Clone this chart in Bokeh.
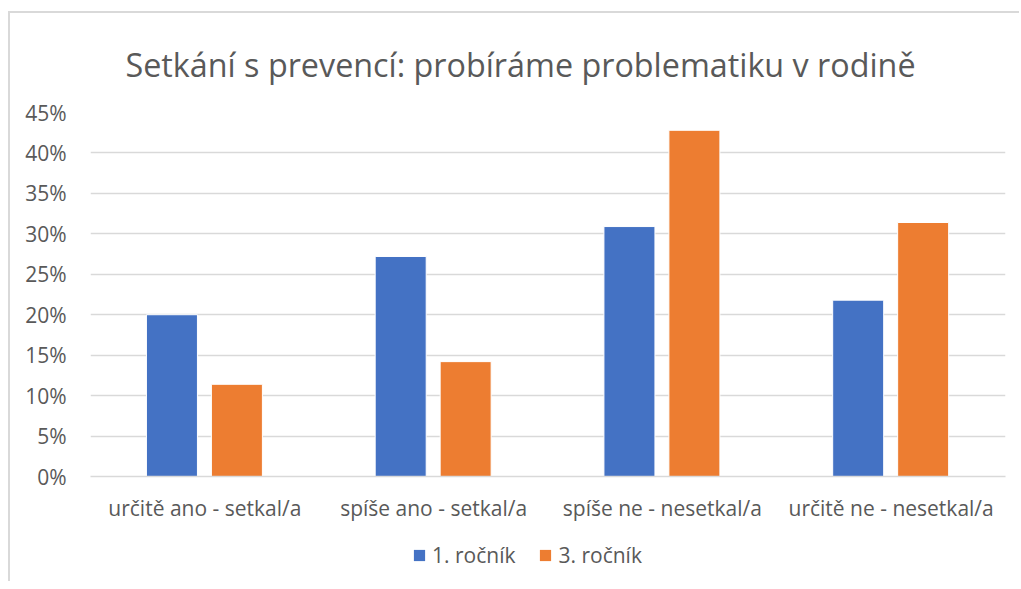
from bokeh.plotting import figure
from bokeh.layouts import column
from bokeh.models import FactorRange, FixedTicker, NumeralTickFormatter, Legend, LegendItem, ColumnDataSource
from bokeh.transform import dodge
from bokeh.embed import file_html
from bokeh.resources import INLINE

title = "Setkání s prevencí: probíráme problematiku v rodině"
categories = ["určitě ano - setkal/a", "spíše ano - setkal/a", "spíše ne - nesetkal/a", "určitě ne - nesetkal/a"]
series_names = ["1. ročník", "3. ročník"]
rocnik1 = [0.200, 0.272, 0.309, 0.218]
rocnik3 = [0.114, 0.142, 0.428, 0.314]
y_ticks = [0, 0.05, 0.10, 0.15, 0.20, 0.25, 0.30, 0.35, 0.40, 0.45]

BLUE = "#4472C4"
ORANGE = "#ED7D31"
TXT = "#595959"
GRID = "#d9d9d9"
FONT = "Open Sans"

src = ColumnDataSource(dict(cat=categories, r1=rocnik1, r3=rocnik3))

# main chart
p = figure(x_range=FactorRange(*categories), y_range=(0, 0.45),
           width=1009, height=513,
           min_border_left=80, min_border_right=14, min_border_top=99, min_border_bottom=50,
           output_backend="svg", toolbar_location=None)
p.x_range.range_padding = 0
p.outline_line_color = None
p.background_fill_color = "white"
p.border_fill_color = "white"

p.title.text = title
p.title.align = "left"
p.title.text_font = FONT
p.title.text_font_size = "32.3px"
p.title.text_font_style = "normal"
p.title.text_color = TXT
p.title.offset = 35
p.title.standoff = 53

p.vbar(x=dodge("cat", -0.144, range=p.x_range), top="r1", width=0.223, source=src,
       fill_color=BLUE, line_color="white", line_width=1)
p.vbar(x=dodge("cat", 0.14, range=p.x_range), top="r3", width=0.223, source=src,
       fill_color=ORANGE, line_color="white", line_width=1)

p.yaxis.ticker = FixedTicker(ticks=y_ticks)
p.yaxis.formatter = NumeralTickFormatter(format="0%")
p.yaxis.axis_line_color = None
p.yaxis.major_tick_line_color = None
p.yaxis.minor_tick_line_color = None
p.yaxis.major_label_text_font = FONT
p.yaxis.major_label_text_font_size = "21px"
p.yaxis.major_label_text_color = TXT
p.yaxis.major_label_standoff = 18

p.xaxis.axis_line_color = GRID
p.xaxis.axis_line_width = 1.5
p.xaxis.major_tick_line_color = None
p.xaxis.minor_tick_line_color = None
p.xaxis.major_label_text_font = FONT
p.xaxis.major_label_text_font_size = "21px"
p.xaxis.major_label_text_color = TXT
p.xaxis.major_label_standoff = 11

p.xgrid.grid_line_color = None
p.ygrid.grid_line_color = GRID
p.ygrid.grid_line_width = 1.5
p.ygrid.ticker = FixedTicker(ticks=y_ticks)

# legend strip (same series; bars lie outside its y-range so only the legend shows)
p2 = figure(x_range=FactorRange(*categories), y_range=(1, 2), width=1009, height=55,
            min_border=0, output_backend="svg", toolbar_location=None, title=None)
p2.axis.visible = False
p2.grid.grid_line_color = None
p2.outline_line_color = None
p2.border_fill_color = "white"
l1 = p2.vbar(x="cat", top="r1", width=0.2, source=src, fill_color=BLUE, line_color=None)
l3 = p2.vbar(x="cat", top="r3", width=0.2, source=src, fill_color=ORANGE, line_color=None)

legend = Legend(items=[LegendItem(label=series_names[0], renderers=[l1]),
                       LegendItem(label=series_names[1], renderers=[l3])],
                orientation="horizontal", location=(322, 12),
                label_text_font=FONT, label_text_font_size="21px", label_text_color=TXT,
                glyph_width=14, glyph_height=14, spacing=23, label_standoff=6,
                border_line_color=None, background_fill_alpha=0, margin=0, padding=0)
p2.add_layout(legend, "center")

layout = column(p, p2, spacing=0,
                styles={"border-left": "2px solid #d9d9d9", "border-top": "2px solid #d9d9d9",
                        "margin-top": "11px", "margin-left": "8px"})

open("out.html", "w").write(file_html(layout, INLINE))
